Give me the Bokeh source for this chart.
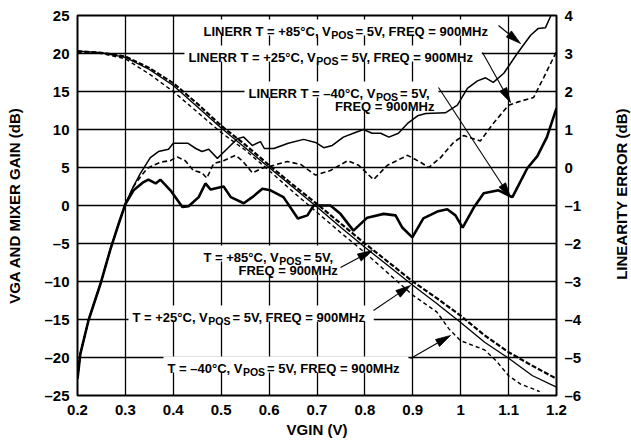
import math
from bokeh.plotting import figure
from bokeh.layouts import row
from bokeh.models import Range1d, LinearAxis, FixedTicker
from bokeh.core.properties import value
from bokeh.embed import file_html
from bokeh.resources import INLINE

# ---------------- data ----------------
vgin = [0.2, 0.25, 0.3, 0.35, 0.4, 0.45, 0.5, 0.55, 0.6, 0.65, 0.7,
        0.75, 0.8, 0.85, 0.9, 0.95, 1.0, 1.05, 1.1, 1.15, 1.2]
gain_p85 = [20.3, 20.1, 19.6, 18.1, 16.1, 13.4, 10.5, 8.0, 5.3, 2.7, 0.2,
            -2.4, -5.0, -7.5, -10.0, -12.2, -14.5, -17.1, -19.3, -21.1, -22.8]
gain_p25 = [20.3, 20.1, 19.5, 17.9, 15.8, 13.0, 10.2, 7.6, 5.0, 2.4, -0.2,
            -2.9, -5.5, -8.0, -10.5, -12.9, -15.4, -18.0, -20.1, -22.4, -23.9]
vgin_m40 = [0.2, 0.25, 0.3, 0.35, 0.4, 0.45, 0.5, 0.55, 0.6, 0.65, 0.7,
            0.75, 0.8, 0.85, 0.9, 0.95, 0.975, 1.0, 1.025, 1.05, 1.075,
            1.1, 1.125, 1.15, 1.165]
gain_m40 = [20.2, 20.0, 19.3, 17.3, 15.0, 12.3, 9.6, 7.3, 4.6, 1.8, -0.9,
            -3.6, -6.2, -9.0, -11.8, -14.0, -16.2, -17.8, -18.4, -19.0, -20.5,
            -22.4, -23.5, -24.1, -24.5]

le_p85_v = [0.2, 0.206, 0.223, 0.248, 0.269, 0.286, 0.3, 0.315, 0.331, 0.352,
            0.369, 0.39, 0.4, 0.43, 0.447, 0.46, 0.474, 0.492, 0.513, 0.534,
            0.547, 0.565, 0.582, 0.59, 0.61, 0.64, 0.672, 0.697, 0.714, 0.732,
            0.755, 0.78, 0.797, 0.815, 0.833, 0.85, 0.87, 0.889, 0.91, 0.927,
            0.968, 0.993, 1.014, 1.035, 1.052, 1.068, 1.09, 1.118, 1.146, 1.162,
            1.177, 1.187, 1.195]
le_p85 = [-5.56, -4.90, -4.02, -3.06, -2.14, -1.48, -0.96, -0.54, -0.16, 0.26,
          0.42, 0.48, 0.64, 0.64, 0.50, 0.42, 0.48, 0.24, 0.50, 0.76,
          0.80, 0.58, 0.68, 0.50, 0.50, 0.64, 0.74, 0.66, 0.52, 0.58,
          0.80, 0.92, 1.00, 0.90, 0.90, 0.80, 0.90, 1.16, 1.36, 1.42,
          1.44, 1.64, 2.08, 2.28, 2.36, 2.24, 2.48, 3.00, 3.48, 3.66,
          3.68, 3.96, 4.20]

le_p25_v = [0.2, 0.206, 0.223, 0.248, 0.269, 0.286, 0.3, 0.318, 0.333, 0.346,
            0.373, 0.394, 0.408, 0.425, 0.442, 0.46, 0.47, 0.484, 0.505, 0.53,
            0.544, 0.565, 0.586, 0.61, 0.638, 0.666, 0.697, 0.728, 0.764, 0.787,
            0.818, 0.847, 0.889, 0.916, 0.933, 0.958, 0.985, 1.006, 1.041, 1.068,
            1.1, 1.118, 1.152, 1.173, 1.198, 1.2]
le_p25 = [-5.56, -4.90, -4.02, -3.06, -2.14, -1.48, -0.96, -0.48, -0.22, -0.02,
          0.14, 0.18, 0.28, 0.18, -0.08, -0.14, -0.28, 0.10, 0.18, 0.32,
          0.18, -0.14, -0.02, 0.06, 0.16, 0.08, -0.20, -0.08, 0.18, 0.06,
          -0.32, 0.06, 0.32, 0.14, 0.00, 0.26, 0.66, 0.84, 0.70, 1.16,
          1.64, 1.72, 1.84, 2.36, 3.00, 3.06]

le_m40_v = [0.2, 0.206, 0.223, 0.248, 0.269, 0.286, 0.3, 0.317, 0.336, 0.348,
            0.363, 0.373, 0.394, 0.419, 0.432, 0.453, 0.467, 0.478, 0.505, 0.52,
            0.547, 0.565, 0.586, 0.603, 0.63, 0.66, 0.68, 0.693, 0.728, 0.749,
            0.776, 0.805, 0.839, 0.864, 0.878, 0.899, 0.922, 0.951, 0.972, 0.989,
            1.004, 1.027, 1.048, 1.079, 1.108, 1.139, 1.16, 1.18, 1.2]
le_m40 = [-5.56, -4.90, -4.02, -3.06, -2.14, -1.48, -0.96, -0.60, -0.40, -0.32,
          -0.42, -0.32, -0.60, -1.04, -1.02, -0.78, -0.42, -0.58, -0.50, -0.78,
          -0.94, -0.78, -0.56, -0.60, -0.78, -1.34, -1.26, -1.00, -1.00, -1.22,
          -1.66, -1.32, -1.22, -1.26, -1.58, -1.84, -1.34, -1.16, -1.10, -1.26,
          -1.58, -1.06, -0.68, -0.60, -0.78, -0.02, 0.30, 0.80, 1.56]

x_ticks = [0.2, 0.3, 0.4, 0.5, 0.6, 0.7, 0.8, 0.9, 1.0, 1.1, 1.2]
y_ticks = [-25, -20, -15, -10, -5, 0, 5, 10, 15, 20, 25]
y_tick_labels = ["–25", "–20", "–15", "–10", "–5", "0", "5", "10", "15", "20", "25"]
r_ticks = [-6, -5, -4, -3, -2, -1, 0, 1, 2, 3, 4]
r_tick_labels = ["–6", "–5", "–4", "–3", "–2", "–1", "0", "1", "2", "3", "4"]

x_title = "VGIN (V)"
y_title = "VGA AND MIXER GAIN (dB)"
r_title = "LINEARITY ERROR (dB)"

# ---------------- layout helpers ----------------
FONT = "Liberation Sans"
FL, FT, FW, FH = 77.0, 15.0, 479.0, 380.0   # frame in picture pixels
RB = 40                                       # right border of the main plot
TOTAL_W, TOTAL_H = 631, 447


def dx(px):
    return 0.2 + (px - FL) / FW * 1.0


def dy(py):
    return 25.0 - (py - FT) / FH * 50.0


AW = {' ': 278, ',': 278, '.': 278, '=': 584, '+': 584, '°': 400, '–': 556,
      '(': 333, ')': 333, 'A': 722, 'B': 722, 'C': 722, 'D': 722, 'E': 667,
      'F': 611, 'G': 778, 'H': 722, 'I': 278, 'L': 611, 'M': 833, 'N': 722,
      'O': 778, 'P': 667, 'Q': 778, 'R': 722, 'S': 667, 'T': 611, 'V': 667,
      'z': 500}


def tw(s, size):
    return sum(AW.get(c, 556) for c in s) * size / 1000.0


MAIN, SUB = 13.0, 10.5

p = figure(frame_width=479, frame_height=380,
           x_range=Range1d(0.2, 1.2), y_range=Range1d(-25, 25),
           output_backend="svg", toolbar_location=None,
           min_border_left=77, min_border_right=RB,
           min_border_top=15, min_border_bottom=52)
p.background_fill_color = "white"
p.border_fill_color = "white"
p.outline_line_color = "black"
p.outline_line_width = 2
p.outline_line_alpha = 1.0

xaxis = p.xaxis[0]
yaxis = p.yaxis[0]
xaxis.ticker = FixedTicker(ticks=x_ticks)
yaxis.ticker = FixedTicker(ticks=y_ticks)
p.xgrid.ticker = FixedTicker(ticks=x_ticks)
p.ygrid.ticker = FixedTicker(ticks=y_ticks)
yaxis.major_label_overrides = dict(zip(y_ticks, y_tick_labels))

p.extra_y_ranges = {"lin": Range1d(-6, 4)}
raxis = LinearAxis(y_range_name="lin", ticker=FixedTicker(ticks=r_ticks))
raxis.major_label_overrides = dict(zip(r_ticks, r_tick_labels))
p.add_layout(raxis, "right")

xaxis.axis_label = x_title
yaxis.axis_label = y_title

for ax in [xaxis, yaxis, raxis]:
    ax.axis_line_color = None
    ax.major_tick_line_color = None
    ax.minor_tick_line_color = None
    ax.major_tick_out = 0
    ax.major_tick_in = 0
    ax.major_label_text_font = FONT
    ax.major_label_text_font_size = "15px"
    ax.major_label_text_font_style = "bold"
    ax.major_label_text_color = "black"
    ax.axis_label_text_font = FONT
    ax.axis_label_text_font_size = "15px"
    ax.axis_label_text_font_style = "bold"
    ax.axis_label_text_color = "black"
xaxis.major_label_standoff = 9
yaxis.major_label_standoff = 8
raxis.major_label_standoff = 8
xaxis.axis_label_standoff = 3
yaxis.axis_label_standoff = 18

for g in p.grid:
    g.grid_line_color = "black"
    g.grid_line_width = 1.3
    g.grid_line_alpha = 1.0


# ---------------- annotation text lines ----------------
def build(left, base, prefix, sub, suffix):
    pieces = []
    x = left
    pieces.append((x, base, prefix, False))
    x += tw(prefix, MAIN)
    if sub:
        x += 0.5
        pieces.append((x, base + 3, "POS", True))
        x += tw("POS", SUB) + 2.0
        pieces.append((x, base, suffix, False))
        x += tw(suffix, MAIN)
    return pieces, x


ann = []
pc, e = build(203, 31, "LINERR T = +85°C, V", True, " = 5V, FREQ = 900MHz"); ann.append((pc, 203, e, 31))
pc, e = build(188, 57, "LINERR T = +25°C, V", True, " = 5V, FREQ = 900MHz"); ann.append((pc, 188, e, 57))
pc, e3 = build(248, 93, "LINERR T = –40°C, V", True, " = 5V,"); ann.append((pc, 248, e3, 93))
w = tw("FREQ = 900MHz", MAIN)
ann.append(([(e3 - w, 106, "FREQ = 900MHz", False)], e3 - w, e3, 106))
pc, e4 = build(203, 257, "T = +85°C, V", True, " = 5V,"); ann.append((pc, 203, e4, 257))
ann.append(([(e4 - w, 270, "FREQ = 900MHz", False)], e4 - w, e4, 270))
pc, e = build(132, 317, "T = +25°C, V", True, " = 5V, FREQ = 900MHz"); ann.append((pc, 132, e, 317))
pc, e = build(167, 368, "T = –40°C, V", True, " = 5V, FREQ = 900MHz"); ann.append((pc, 167, e, 368))

# white boxes behind the annotation lines
bl, br, bt, bb = [], [], [], []
for pcs, l, r, b in ann:
    bl.append(dx(l - 4)); br.append(dx(r + 4))
    bt.append(dy(b - 12)); bb.append(dy(b + 4))
p.quad(left=bl, right=br, top=bt, bottom=bb, fill_color="white", line_color=None)

# ---------------- curves ----------------
p.line(vgin, gain_p25, line_color="black", line_width=1.3)
p.line(vgin, gain_p85, line_color="black", line_width=2.2, line_dash="5 2")
p.line(vgin_m40, gain_m40, line_color="black", line_width=1.4, line_dash="4 3")

p.line(le_p85_v, le_p85, y_range_name="lin", line_color="black", line_width=1.5)
p.line(le_p25_v, le_p25, y_range_name="lin", line_color="black", line_width=1.6, line_dash="5 3")
p.line(le_m40_v, le_m40, y_range_name="lin", line_color="black", line_width=2.6)

# ---------------- text pieces ----------------
mx, my, mt, sx, sy, st = [], [], [], [], [], []
for pcs, l, r, b in ann:
    for (x, y, t, is_sub) in pcs:
        if is_sub:
            sx.append(dx(x)); sy.append(dy(y)); st.append(t)
        else:
            mx.append(dx(x)); my.append(dy(y)); mt.append(t)
p.text(x=mx, y=my, text=mt, text_font=value(FONT), text_font_style="bold",
       text_font_size="13px", text_baseline="alphabetic", text_align="left",
       text_color="black")
p.text(x=sx, y=sy, text=st, text_font=value(FONT), text_font_style="bold",
       text_font_size="10.5px", text_baseline="alphabetic", text_align="left",
       text_color="black")

# ---------------- arrows ----------------
arrows = [((498, 25), (520, 43)), ((482, 52), (510, 102)), ((438, 87), (510, 197)),
          ((340, 267), (372, 250)), ((373, 310), (410, 285)), ((410, 358), (450, 335))]
x0, y0, x1, y1, hx, hy = [], [], [], [], [], []
HL, HW = 15.0, 4.0
for (a, b) in arrows:
    ux, uy = b[0] - a[0], b[1] - a[1]
    n = math.hypot(ux, uy)
    ux, uy = ux / n, uy / n
    bx, by = b[0] - ux * HL, b[1] - uy * HL
    x0.append(dx(a[0])); y0.append(dy(a[1])); x1.append(dx(bx)); y1.append(dy(by))
    hx.append([dx(b[0]), dx(bx - uy * HW), dx(bx + uy * HW)])
    hy.append([dy(b[1]), dy(by + ux * HW), dy(by - ux * HW)])
p.segment(x0=x0, y0=y0, x1=x1, y1=y1, line_color="black", line_width=1.1)
p.patches(xs=hx, ys=hy, fill_color="black", line_color="black", line_width=0.8)

# ---------------- right-hand title strip ----------------
main_w = int(FL + FW + RB)
strip_w = TOTAL_W - main_w
p2 = figure(width=strip_w, height=TOTAL_H, x_range=Range1d(0, strip_w),
            y_range=Range1d(0, TOTAL_H), output_backend="svg",
            toolbar_location=None, x_axis_location=None, y_axis_location=None,
            min_border=0, min_border_left=0, min_border_right=0,
            min_border_top=0, min_border_bottom=0)
p2.outline_line_color = None
p2.background_fill_color = "white"
p2.border_fill_color = "white"
p2.grid.visible = False
p2.text(x=[621 - main_w], y=[TOTAL_H - 210], text=[r_title], angle=math.pi / 2,
        text_font=value(FONT), text_font_style="bold", text_font_size="15px",
        text_align="center", text_baseline="middle", text_color="black")

layout = row(p, p2, spacing=0)
open("out.html", "w").write(file_html(layout, INLINE))
